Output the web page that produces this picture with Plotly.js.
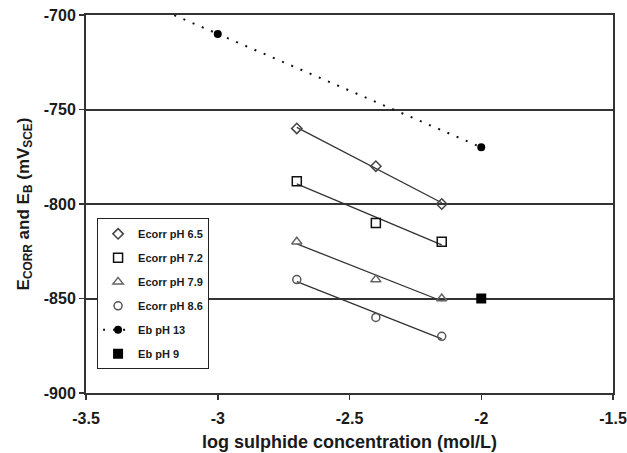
<!DOCTYPE html>
<html>
<head>
<meta charset="utf-8">
<script src="https://cdn.plot.ly/plotly-3.0.1.min.js"></script>
<style>html,body{margin:0;padding:0;background:#fff;}#chart{width:627px;height:453px;}</style>
</head>
<body>
<div id="chart"></div>
<script>
// ---- data ----
const logConc = [-2.7, -2.4, -2.15];
const ecorrPH65 = [-760, -780, -800];
const ecorrPH72 = [-788, -810, -820];
const ecorrPH79 = [-820, -840, -850];
const ecorrPH86 = [-840, -860, -870];
const ebPH13X = [-3, -2];
const ebPH13 = [-710, -770];
const ebPH9X = [-2];
const ebPH9 = [-850];
const xTickVals = [-3.5, -3, -2.5, -2, -1.5];
const xTickText = ['-3.5', '-3', '-2.5', '-2', '-1.5'];
const yTickVals = [-900, -850, -800, -750, -700];
const yTickText = ['-900', '-850', '-800', '-750', '-700'];
const backcast = 0.2; // trendline backward forecast for Eb pH 13

function fit(xs, ys) {
  const n = xs.length;
  const mx = xs.reduce((a, b) => a + b, 0) / n;
  const my = ys.reduce((a, b) => a + b, 0) / n;
  let sxy = 0, sxx = 0;
  for (let i = 0; i < n; i++) { sxy += (xs[i] - mx) * (ys[i] - my); sxx += (xs[i] - mx) ** 2; }
  const m = sxy / sxx;
  return x => my + m * (x - mx);
}
function fitLine(xs, ys, x0, x1) {
  const f = fit(xs, ys);
  return { x: [x0, x1], y: [f(x0), f(x1)] };
}

const FONT = '"Liberation Sans", Arial, sans-serif';
const TXT = '#1a1a1a';
const traces = [];
const ecorr = [
  { name: 'Ecorr pH 6.5', y: ecorrPH65, symbol: 'diamond-open', color: '#444', size: 8 },
  { name: 'Ecorr pH 7.2', y: ecorrPH72, symbol: 'square-open', color: '#111', size: 9 },
  { name: 'Ecorr pH 7.9', y: ecorrPH79, symbol: 'triangle-up-open', color: '#666', size: 9 },
  { name: 'Ecorr pH 8.6', y: ecorrPH86, symbol: 'circle-open', color: '#555', size: 8 }
];
ecorr.forEach((s) => {
  const xs = logConc;
  const l = fitLine(xs, s.y, Math.min(...xs), Math.max(...xs));
  traces.push({ x: l.x, y: l.y, mode: 'lines', line: { color: '#333', width: 1.3 }, showlegend: false, hoverinfo: 'skip' });
});
ecorr.forEach((s, i) => {
  traces.push({ x: logConc, y: s.y, name: s.name, mode: 'markers', legendgroup: 'g' + i,
    marker: { symbol: s.symbol, size: s.size, color: s.color, line: { color: s.color, width: 1.5 } } });
});
// Eb pH 13 extension (backward forecast of linear trendline)
const f13 = fit(ebPH13X, ebPH13);
const x13min = Math.min(...ebPH13X);
const xs13 = x13min - backcast;
traces.push({ x: [xs13, x13min], y: [f13(xs13), f13(x13min)], mode: 'lines',
  line: { color: '#111', width: 2, dash: '2px,8px' }, showlegend: false, hoverinfo: 'skip' });
traces.push({ x: ebPH13X, y: ebPH13, name: 'Eb pH 13', mode: 'lines+markers', legendgroup: 'g4',
  line: { color: '#111', width: 2, dash: '2px,8px' }, marker: { symbol: 'circle', size: 8, color: '#000' } });
traces.push({ x: ebPH9X, y: ebPH9, name: 'Eb pH 9', mode: 'markers', legendgroup: 'g5',
  marker: { symbol: 'square', size: 10, color: '#000' } });

const layout = {
  width: 627, height: 453,
  margin: { l: 86, r: 14, t: 15, b: 60 },
  paper_bgcolor: '#fff', plot_bgcolor: '#fff',
  font: { family: FONT, color: TXT },
  showlegend: true,
  legend: {
    x: 0.021, y: 0.462, xanchor: 'left', yanchor: 'top',
    bgcolor: '#fff', bordercolor: '#222', borderwidth: 1,
    font: { family: FONT, size: 11, color: TXT, weight: 'bold' },
    traceorder: 'grouped', tracegroupgap: 5
  },
  xaxis: {
    range: [-3.5, -1.5], tickvals: xTickVals, ticktext: xTickText,
    showgrid: false, zeroline: false,
    showline: true, mirror: true, linecolor: '#333', linewidth: 2,
    ticks: 'outside', ticklen: 5, tickcolor: '#333', tickwidth: 1.5,
    ticklabelstandoff: 5,
    tickfont: { family: FONT, size: 16, color: TXT, weight: 'bold' },
    title: { text: 'log sulphide concentration (mol/L)', font: { family: FONT, size: 18, color: TXT, weight: 'bold' }, standoff: 9 }
  },
  yaxis: {
    range: [-900, -700], tickvals: yTickVals, ticktext: yTickText,
    showgrid: true, gridcolor: '#333', gridwidth: 2, zeroline: false,
    showline: true, mirror: true, linecolor: '#333', linewidth: 2,
    ticks: 'outside', ticklen: 5, tickcolor: '#333', tickwidth: 1.5,
    tickfont: { family: FONT, size: 16, color: TXT, weight: 'bold' },
    title: { text: 'E<sub>CORR</sub> and E<sub>B</sub> (mV<sub>SCE</sub>)', font: { family: FONT, size: 17, color: TXT, weight: 'bold' }, standoff: 10 }
  }
};
Plotly.newPlot('chart', traces, layout, { displayModeBar: false, staticPlot: true });
</script>
</body>
</html>
